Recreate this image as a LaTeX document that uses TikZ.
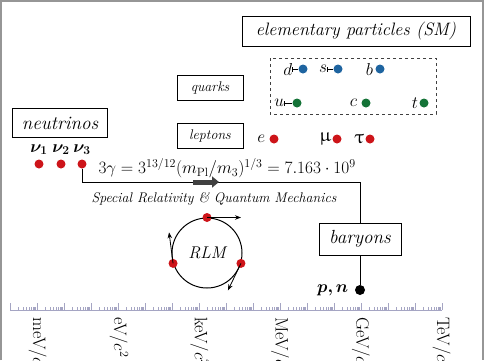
\documentclass[tikz,border=0pt]{standalone}
\usepackage{amsmath,amssymb}
\usepackage{bm}
\usepackage{upgreek}
\usepackage{tikz}
\usetikzlibrary{arrows.meta,positioning,calc}
\definecolor{quarkblue}{RGB}{30,100,160}
\definecolor{quarkgreen}{RGB}{20,115,55}
\definecolor{dotred}{RGB}{205,20,25}
\definecolor{rulegray}{RGB}{165,165,195}
\definecolor{framegray}{RGB}{150,150,150}

\begin{document}
\begin{tikzpicture}[x=1pt, y=-1pt,
    box/.style={draw, line width=1pt, inner sep=0pt},
    dot/.style={circle, fill=#1, inner sep=0pt, minimum size=9pt},
    letter/.style={inner sep=0pt, font=\fontsize{19}{21}\selectfont},
    bartick/.style={line width=0.6pt, {Bar[width=5pt]}-},
    thinarrow/.style={line width=0.8pt, -{Stealth[length=6pt,width=4.5pt]}},
    tick/.style={rulegray, line width=0.6pt}]
    \useasboundingbox (0,0) rectangle (485,360);
    % Cadre
    \draw[framegray, line width=1.5pt] (1,360) -- (1,1) -- (483,1) -- (483,360);

    % Boites
    \node[box, minimum width=228pt, minimum height=30pt, font=\fontsize{18}{20}\selectfont\itshape]
        (sm) at (356,31) {elementary particles (SM)};
    \node[box, minimum width=66pt, minimum height=25pt, font=\fontsize{14}{16}\selectfont\itshape]
        (quarks) at (210,88) {quarks};
    \node[box, minimum width=66pt, minimum height=25pt, font=\fontsize{14}{16}\selectfont\itshape]
        (leptons) at (210,136) {leptons};
    \node[box, minimum width=95pt, minimum height=29pt, font=\fontsize{19}{21}\selectfont\itshape]
        (neutrinos) at (60,123) {neutrinos};
    \node[box, minimum width=82pt, minimum height=32pt, font=\fontsize{19}{21}\selectfont\itshape]
        (baryons) at (360,239) {baryons};
    \draw[dashed, line width=1pt, darkgray] (270,58) rectangle (436,114);

    % Quarks
    \node[dot=quarkblue] (dd) at (303,69) {};
    \node[dot=quarkblue] (sd) at (338,69) {};
    \node[dot=quarkblue] (bd) at (380,69) {};
    \node[dot=quarkgreen] (ud) at (297,103) {};
    \node[dot=quarkgreen] (cd) at (366,103) {};
    \node[dot=quarkgreen] (td) at (424,103) {};
    \node[letter, left=6pt of dd] (dq) {$d$};
    \node[letter, left=6pt of sd] (sq) {$s$};
    \node[letter, left=2pt of bd] (bq) {$b$};
    \node[letter, left=8pt of ud] (uq) {$u$};
    \node[letter, left=4pt of cd] (cq) {$c$};
    \node[letter, left=1pt of td] (tq) {$t$};
    \draw[bartick] (dq.east) -- (dd.west);
    \draw[bartick] (sq.east) -- (sd.west);
    \draw[bartick] (uq.east) -- (ud.west);

    % Leptons
    \node[dot=dotred] (ed) at (274,139) {};
    \node[dot=dotred] (mud) at (337,139) {};
    \node[dot=dotred] (taud) at (370,139) {};
    \node[letter, left=4pt of ed] (el) {$e$};
    \node[letter, left=1pt of mud] (mul) {$\upmu$};
    \node[letter, left=1pt of taud] (taul) {$\uptau$};

    % Neutrinos
    \foreach \n/\x in {1/39, 2/61, 3/82} {
        \node[dot=dotred] (nu\n) at (\x,164) {};
        \node[font=\fontsize{17}{19}\selectfont, above=1pt of nu\n] (nul\n) {$\bm{\nu_{\n}}$};
    }

    % Chemin vers les baryons
    \coordinate (bend) at (baryons.north |- 0,182);
    \draw[line width=1pt] (nu3) |- (bend) -- (baryons.north);
    \coordinate (ba) at (193,182);
    \coordinate (bb) at (219,182);
    \draw[darkgray, line width=5pt, -{Triangle[length=7pt,width=11pt]}] (ba) -- (bb);
    \node[font=\fontsize{16.5}{18}\selectfont, anchor=west] (eq) at (95,168)
        {$3\gamma = 3^{13/12}(m_{\mathrm{Pl}}/m_3)^{1/3} = 7.163\cdot 10^9$};
    \node[font=\fontsize{14}{16}\selectfont\itshape] (srqm) at (214,199)
        {Special Relativity \& Quantum Mechanics};

    % p, n
    \node[dot=black, minimum size=10pt] (pn) at (baryons.south |- 0,290) {};
    \node[font=\fontsize{16}{18}\selectfont, left=3pt of pn] (pnl) {$\bm{p,n}$};
    \draw[line width=1pt] (baryons.south) -- (pn);

    % RLM
    \node[circle, draw, line width=1pt, minimum size=70pt, inner sep=0pt,
          font=\fontsize{17}{19}\selectfont\itshape] (rlm) at (207,253) {RLM};
    \node[dot=dotred] (rt) at (rlm.90) {};
    \node[dot=dotred] (rl) at (rlm.197) {};
    \node[dot=dotred] (rr) at (rlm.-17) {};
    \draw[thinarrow] (rt.center) -- ++(34,0);
    \draw[thinarrow] (rl.center) -- ++(-4,-31);
    \draw[thinarrow] (rr.center) -- ++(-13,27);

    % Echelle
    \draw[tick] (10,310) -- (442,310);
    \foreach \d in {0,...,15} {
        \draw[tick] (10+27*\d,310) -- ++(0,-7);
        \foreach \k in {2,...,9}
            \draw[tick] ({10+27*\d+27*log10(\k)},310) -- ++(0,-3);
    }
    \draw[tick] (442,310) -- ++(0,-7);
    \foreach \u [count=\i from 0] in {meV,eV,keV,MeV,GeV,TeV}
        \node[rotate=-90, anchor=west, inner sep=0pt, font=\fontsize{18}{20}\selectfont]
            (scale\i) at (38+80.8*\i,317) {\u/$c^2$};
\end{tikzpicture}
\end{document}
